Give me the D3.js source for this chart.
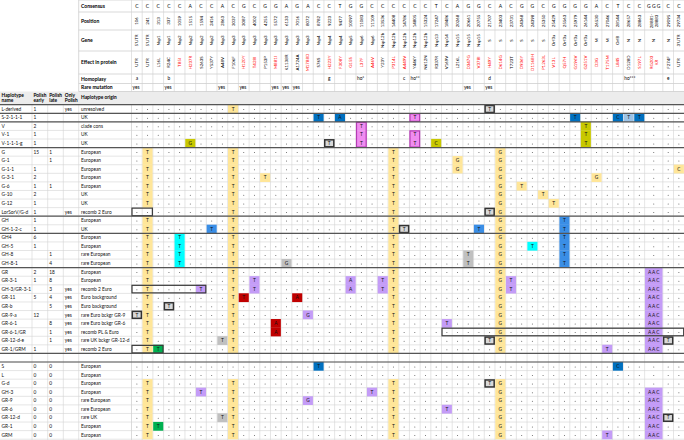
<!DOCTYPE html>
<html><head><meta charset="utf-8">
<script src="https://cdn.jsdelivr.net/npm/d3@7"></script>
<style>
body{margin:0;background:#fff;}
svg{display:block;font-family:Lato,"Liberation Sans",sans-serif;}
</style></head><body>
<svg id="chart" width="684" height="440"></svg>
<script>
// ---- header data (one entry per mutation column)
var consensus = ["C","C","C","C","C","A","C","C","A","C","G","C","G","G","A","G","A","C","C","T",
  "G","G","C","C","C","C","C","C","T","C","A","G","G","C","A","C","G","G","C","G",
  "G","G","G","A","C","T","C","C","GGG","C","C"];
var positions = ["106","241","313","337","1059","1515","1594","2416","2863","3037","3087","4002","4255","5572","6133","7016","8072","8782","9223","9477",
  "10097","11083","11109","13536","14408","14786","14805","15324","17247","18486","20268","20661","20755","21707","23403","23731","24368","24398","25350","25429",
  "25563","25979","26144","26530","27046","28144","28657","28863","28881-|28883","29095","29734"];
var genes = ["5'UTR","5'UTR","Nsp1","Nsp1","Nsp2","Nsp2","Nsp2","Nsp2","Nsp3","Nsp3","Nsp3","Nsp3","Nsp3","Nsp3","Nsp3","Nsp3","Nsp3","Nsp4","Nsp4","Nsp4",
  "Nsp5","Nsp6","Nsp6","Nsp12b","Nsp12b","Nsp12b","Nsp12b","Nsp12b","Nsp13","Nsp14","Nsp15","Nsp15","Nsp15","S","S","S","S","S","S","Orf3a",
  "Orf3a","Orf3a","Orf3a","M","M","Orf8","N","N","N","N","3'UTR"];
var effects = ["UTR","UTR","L16L","R24C","T85I","H237R","S263S","Y537Y","A48V","F106F","H120Y","T428I","P153P","M881I","K1138R","A1724A","M1788D","S76S","H223Y","F308Y",
  "G15S","L37F","A46V","Y23Y","P314L","A449V","Y446Y","N612N","R337R","V169V","L216L","D347G","V378I","H49Y","D614G","T723T","D936Y","D1168H","P1263L","V13L",
  "Q57H","G196V","G251V","D3G","T175M","L84S","D128D","S197L","RG203|KR","F274F","UTR"];
var nonsyn = [4,5,10,11,13,16,18,19,20,21,22,24,25,31,32,33,34,36,37,38,39,40,41,42,43,44,45,47,48];
var homoplasy = {0:"a",3:"b",18:"g",21:"ho*",25:"c",26:"ho**",33:"d",46:"ho***",49:"e"};
var rareCols = [0,3,8,10,13,14,15,31,33];

// ---- haplotype rows
var names = ["L-derived","S-2-1-1-1","V","V-1","V-1-1-1-g","G","G-1","G-1-1","G-3-1","G-6","G-10","G-12","LorSorV/G-d","GH","GH-1-2-c","GH4","GH-5","GH-8","GH-8-1",
  "GR","GR-3-1","GH-3/GR-3-1","GR-11","GR-b","GR-9-a","GR-6-1","GR-6-1/GR","GR-12-d-e","GR-1/GRM","",
  "S","L","G-d","GH-3","GR-9","GR-6","GR-12-d","GR-1","GRM"];
var polishEarly = ["1","1","2","1","1","15","","1","2","1","2","1","1","1","1","6","1","","","2","1","","5","","12","","","","1","",
  "0","0","0","0","0","0","0","0","0"];
var polishLate = ["","","","","","1","1","","","1","","","","","","","","1","4","18","8","3","4","5","","8","1","1","","",
  "0","0","0","0","0","0","0","0","0"];
var onlyPolish = ["yes","","","","","","","","","","","","yes","","","","","","","","","yes","yes","yes","yes","yes","yes","yes","yes","",
  "","","","","","","","",""];
var origins = ["unresolved","UK","clade cons","UK","UK","European","European","European","European","European","UK","UK","recomb 2 Euro","European","UK",
  "European","European","rare European","rare European","European","European","recomb 2 Euro","Euro background","Euro background",
  "rare Euro bckgr GR-9","rare Euro bckgr GR-6","recomb PL & Euro","rare UK bckgr GR-12-d","recomb 2 Euro","",
  "European","European","European","European","rare European","rare European","rare UK","European","European"];
// mutations per row: column + base : colour class
var rowMuts = [
  "9T:Y 33T:K",
  "17T:B 19A:B 26T:M 41T:B 45C:B 46T:L 47T:B",
  "21T:M 42T:O",
  "21T:M 26T:M 42T:O",
  "5G:O 18T:K 21T:M 26T:M 28C:O 42T:O",
  "1T:Y 9T:Y 24T:Y 34G:Y",
  "1T:Y 9T:Y 24T:Y 30G:Y 34G:Y",
  "1T:Y 9T:Y 24T:Y 30G:Y 34G:Y 50C:Y",
  "1T:Y 9T:Y 12T:Y 24T:Y 34G:Y 43G:Y",
  "1T:Y 9T:Y 24T:Y 34G:Y 36T:Y",
  "1T:Y 9T:Y 24T:Y 34G:Y 38T:Y",
  "1T:Y 9T:Y 24T:Y 34G:Y 39T:Y",
  "9T:Y 24T:Y 33T:K 34G:Y",
  "1T:Y 9T:Y 24T:Y 34G:Y 40T:A",
  "1T:Y 7T:A 9T:Y 24T:Y 25T:K 32T:A 34G:Y 40T:A",
  "1T:Y 4T:C 9T:Y 24T:Y 34G:Y 40T:A",
  "1T:Y 4T:C 9T:Y 24T:Y 34G:Y 37T:C 40T:A",
  "1T:Y 4T:C 9T:Y 24T:Y 31T:G 34G:Y 40T:A",
  "1T:Y 4T:C 9T:Y 14G:G 24T:Y 31T:G 34G:Y 40T:A",
  "1T:Y 9T:Y 24T:Y 34G:Y 48AAC:P",
  "1T:Y 9T:Y 11T:P 20A:P 23T:P 24T:Y 34G:Y 35T:P 48AAC:P",
  "1T:Y 6T:P 9T:Y 11T:P 20A:P 23T:P 24T:Y 34G:Y 35T:P 48AAC:P",
  "1T:Y 9T:Y 10T:R 15A:R 24T:Y 34G:Y 48AAC:P",
  "1T:Y 3T:K 9T:Y 24T:Y 34G:Y 48AAC:P",
  "0T:K 1T:Y 9T:Y 16G:P 24T:Y 34G:Y 48AAC:P",
  "1T:Y 9T:Y 13A:R 24T:Y 29T:P 34G:Y 48AAC:P",
  "1T:Y 9T:Y 13A:R 24T:Y 34G:Y 48AAC:P",
  "1T:Y 8T:G 9T:Y 24T:Y 33T:K 34G:Y 48AAC:P 49T:K",
  "1T:Y 2T:N 9T:Y 24T:Y 34G:Y 44T:P 48AAC:P",
  "",
  "17T:B 45C:B",
  "",
  "1T:Y 9T:Y 24T:Y 33T:K 34G:Y",
  "1T:Y 6T:P 9T:Y 22T:P 24T:Y 34G:Y 48AAC:P",
  "1T:Y 9T:Y 16G:P 24T:Y 34G:Y 48AAC:P",
  "1T:Y 9T:Y 24T:Y 29T:P 34G:Y 48AAC:P",
  "1T:Y 8T:G 9T:Y 24T:Y 34G:Y 48AAC:P 49T:K",
  "1T:Y 2T:N 9T:Y 24T:Y 34G:Y 48AAC:P",
  "1T:Y 9T:Y 24T:Y 34G:Y 44T:P 48AAC:P"
];
var blankRows = [29];
// outlined blocks: [firstRow, lastRow, firstCol, lastCol, kind]
var outlines = [[12,12,0,1,"d"],[2,4,21,21,"m"],[1,1,26,26,"m"],[3,4,26,26,"m"],
  [21,21,0,6,"d"],[26,26,29,50,"d"],[28,28,0,2,"d"]];
var groupBreaks = [-1,0,1,4,12,14,18,28,29];

var fills = {Y:"#ffe699",B:"#0070c0",L:"#9dc3e6",A:"#3a8ee6",M:"#f08cf0",O:"#c8c800",G:"#c0c0c0",K:"#d9d9d9",C:"#00ffff",P:"#c49cf7",R:"#c00000",N:"#00b050"};
var outlineColor = {d:"#3a3a3a",m:"#b43cb4"};

var W = 684;
var svg = d3.select("#chart");

/* column geometry */
var colUnits = consensus.map(function(c){ return c.length > 1 ? 1.7 : 1; });
var colStart = [], acc = 0;
colUnits.forEach(function(u){ colStart.push(acc); acc += u; });
var x = d3.scaleLinear().domain([0, acc]).range([131.5, 684.2]);
function cl(i){ return x(colStart[i]); }
function cr(i){ return x(colStart[i] + colUnits[i]); }
function cx(i){ return (cl(i) + cr(i)) / 2; }

var y = d3.scaleBand().domain(d3.range(names.length)).range([104.7, 439.2]);
var bw = y.bandwidth();

var headEdges = [0, 12, 30, 51, 74, 83.5, 91.5];
var headLabels = ["Consensus","Position","Gene","Effect in protein","Homoplasy","Rare mutation"];
var leftEdges = [0, 32, 47.7, 63.3, 78.7, 131.5];

/*  HEADER  */
svg.append("rect").attr("x",0).attr("y",headEdges[6]).attr("width",W).attr("height",y(0)-headEdges[6]).attr("fill","#ececec");

var hg = svg.append("g");
headEdges.forEach(function(e){
  hg.append("line").attr("x1",78.7).attr("x2",W).attr("y1",e).attr("y2",e).attr("stroke","#c8c8c8").attr("stroke-width",0.7);
});
hg.append("line").attr("x1",78.7).attr("x2",78.7).attr("y1",0).attr("y2",91.5).attr("stroke","#c8c8c8").attr("stroke-width",0.7);
consensus.forEach(function(c,i){
  hg.append("line").attr("x1",cl(i)).attr("x2",cl(i)).attr("y1",0).attr("y2",91.5).attr("stroke","#d0d0d0").attr("stroke-width",0.6);
});
headLabels.forEach(function(t,i){
  hg.append("text").attr("x",81).attr("y",(headEdges[i]+headEdges[i+1])/2).attr("dy","0.35em")
    .attr("font-size",5).attr("font-weight","bold").text(t);
});
hg.selectAll("text.cons").data(consensus).enter().append("text")
  .attr("x",function(d,i){ return cx(i); }).attr("y",6).attr("dy","0.35em")
  .attr("text-anchor","middle").attr("font-size",5).text(function(d){ return d.split("").join(" "); });

function rotated(arr, r, colorFn){
  arr.forEach(function(t,i){
    var lines = t.split("|");
    var mid = (headEdges[r]+headEdges[r+1])/2;
    lines.forEach(function(s,k){
      var off = (k - (lines.length-1)/2) * 5;
      hg.append("text")
        .attr("transform","translate("+(cx(i)+off)+","+mid+") rotate(-90)")
        .attr("dy","0.35em").attr("text-anchor","middle").attr("font-size",4.4)
        .attr("fill", colorFn ? colorFn(i) : "#000").text(s);
    });
  });
}
rotated(positions, 1);
rotated(genes, 2);
rotated(effects, 3, function(i){ return nonsyn.indexOf(i) >= 0 ? "#ff0000" : "#000"; });

Object.keys(homoplasy).forEach(function(k){
  var i = +k, t = homoplasy[k];
  hg.append("text").attr("x", t.length > 1 ? cl(i)+1 : cx(i)).attr("y",(headEdges[4]+headEdges[5])/2).attr("dy","0.35em")
    .attr("text-anchor", t.length > 1 ? "start" : "middle").attr("font-size",4.8).text(t);
});
rareCols.forEach(function(i){
  hg.append("text").attr("x",cl(i)+1).attr("y",(headEdges[5]+headEdges[6])/2).attr("dy","0.35em")
    .attr("font-size",4.8).text("yes");
});

// haplotype table header row
var th = [["Haplotype","name"],["Polish","early"],["Polish","late"],["Only","Polish"]];
th.forEach(function(p,i){
  p.forEach(function(s,k){
    svg.append("text").attr("x",leftEdges[i]+1.5).attr("y",95+k*5.6).attr("dy","0.35em")
      .attr("font-size",4.8).attr("font-weight","bold").text(s);
  });
});
svg.append("text").attr("x",81).attr("y",97.5).attr("dy","0.35em").attr("font-size",4.8).attr("font-weight","bold").text("Haplotype origin");

/*  BODY  */
var body = svg.append("g");
var cells = [];
rowMuts.forEach(function(s,r){
  if (!s) return;
  s.split(" ").forEach(function(tok){
    var m = tok.match(/^(\d+)([A-Z]+):([A-Z])$/);
    cells.push({row:r, col:+m[1], base:m[2], cls:m[3]});
  });
});

// grid
var grid = body.append("g").attr("stroke","#d4d4d4").attr("stroke-width",0.6);
d3.range(names.length+1).forEach(function(r){
  var yy = r < names.length ? y(r) : y(names.length-1)+bw;
  grid.append("line").attr("x1",0).attr("x2",W).attr("y1",yy).attr("y2",yy);
});
leftEdges.slice(1).concat(consensus.map(function(c,i){ return cl(i); })).forEach(function(xx){
  grid.append("line").attr("x1",xx).attr("x2",xx).attr("y1",y(0)).attr("y2",440);
});
// coloured cells cover the grid so bands run on
body.selectAll("rect.band").data(cells.filter(function(d){ return d.cls !== "K"; })).enter().append("rect")
  .attr("x",function(d){ return cl(d.col)+0.3; }).attr("y",function(d){ return y(d.row)-0.1; })
  .attr("width",function(d){ return cr(d.col)-cl(d.col)-0.6; }).attr("height",bw+0.2)
  .attr("fill",function(d){ return fills[d.cls]; });

// dots in empty cells
var dots = [];
names.forEach(function(n,r){
  if (blankRows.indexOf(r) >= 0) return;
  consensus.forEach(function(c,i){
    var hit = cells.some(function(d){ return d.row === r && d.col === i; });
    if (!hit) dots.push({row:r, col:i});
  });
});
body.selectAll("circle.dot").data(dots).enter().append("circle")
  .attr("cx",function(d){ return cx(d.col); }).attr("cy",function(d){ return y(d.row)+bw/2+0.6; })
  .attr("r",0.5).attr("fill","#555");

// rare (bordered) cells
body.selectAll("rect.rare").data(cells.filter(function(d){ return d.cls === "K"; })).enter().append("rect")
  .attr("x",function(d){ return cl(d.col)+0.8; }).attr("y",function(d){ return y(d.row)+0.8; })
  .attr("width",function(d){ return cr(d.col)-cl(d.col)-1.6; }).attr("height",bw-1.6)
  .attr("fill",fills.K).attr("stroke","#333").attr("stroke-width",1.5);

body.selectAll("text.base").data(cells).enter().append("text")
  .attr("x",function(d){ return cx(d.col); }).attr("y",function(d){ return y(d.row)+bw/2; }).attr("dy","0.35em")
  .attr("text-anchor","middle").attr("font-size",4.8).attr("fill","#111")
  .text(function(d){ return d.base.split("").join(" "); });

// outlined blocks
outlines.forEach(function(o){
  body.append("rect").attr("x",cl(o[2])+0.5).attr("y",y(o[0])+0.5)
    .attr("width",cr(o[3])-cl(o[2])-1).attr("height",y(o[1])+bw-y(o[0])-1)
    .attr("fill","none").attr("stroke",outlineColor[o[4]]).attr("stroke-width",1.2);
});

// left columns text
var colsText = [names, polishEarly, polishLate, onlyPolish, origins];
var tx = [1.5, 33.5, 49.2, 64.8, 81];
colsText.forEach(function(arr,k){
  body.selectAll("text.c"+k).data(arr).enter().append("text")
    .attr("x",tx[k]).attr("y",function(d,r){ return y(r)+bw/2; }).attr("dy","0.35em")
    .attr("font-size",4.8).attr("fill","#111").text(function(d){ return d; });
});

// group separators
groupBreaks.forEach(function(r){
  var yy = r < 0 ? y(0) : y(r)+bw;
  body.append("line").attr("x1",0).attr("x2",W).attr("y1",yy).attr("y2",yy)
    .attr("stroke","#555").attr("stroke-width",1.2);
});
</script>
</body></html>
